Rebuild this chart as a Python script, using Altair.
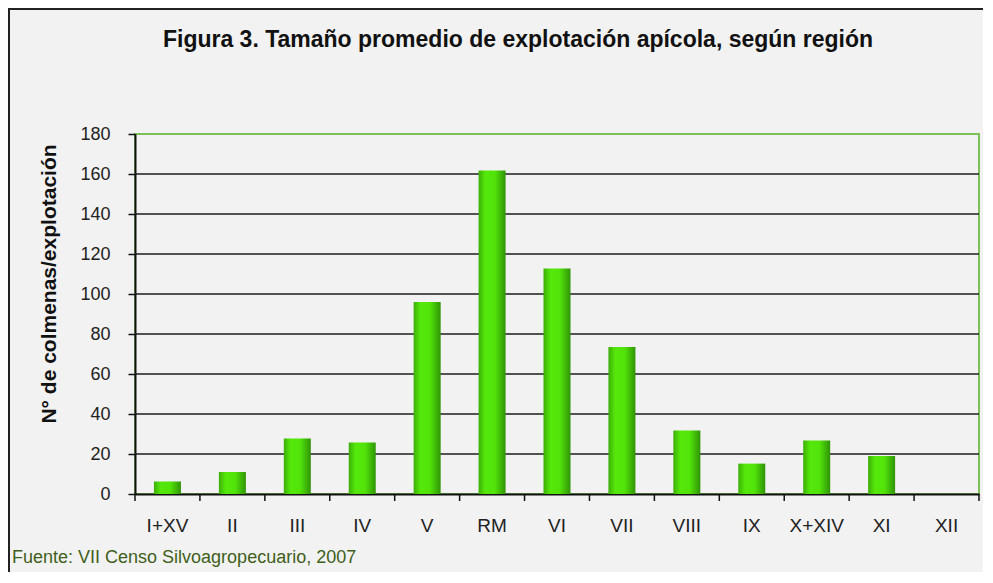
import altair as alt
import pandas as pd

regions = ["I+XV", "II", "III", "IV", "V", "RM", "VI", "VII", "VIII", "IX", "X+XIV", "XI", "XII"]
values = [6.2, 11.0, 27.7, 25.8, 96.0, 161.7, 112.8, 73.5, 31.7, 15.2, 26.8, 19.0, 0.0]
y_ticks = [0, 20, 40, 60, 80, 100, 120, 140, 160, 180]
grid_vals = [20, 40, 60, 80, 100, 120, 140, 160]

title_text = "Figura 3. Tamaño promedio de explotación apícola, según región"
y_title = "N° de colmenas/explotación"
source_text = "Fuente: VII Censo Silvoagropecuario, 2007"

W, H = 844, 360
FONT = "Liberation Sans"

df = pd.DataFrame({"region": regions, "value": values})
grid_df = pd.DataFrame({"g": grid_vals})

xscale = alt.Scale(domain=regions, paddingInner=0, paddingOuter=0)
yscale = alt.Scale(domain=[0, 180], nice=False)

xaxis = alt.Axis(title=None, labelAngle=0, ticks=False, domain=True,
                 domainColor="#111", domainWidth=2, labelFont=FONT,
                 labelFontSize=19, labelColor="#222", labelPadding=22,
                 labelOverlap=False)
yaxis = alt.Axis(title=None, values=y_ticks, grid=False, domainColor="#111",
                 domainWidth=2, tickColor="#111", tickWidth=1.5, tickSize=7,
                 labelFont=FONT, labelFontSize=18, labelColor="#222",
                 labelPadding=18, labelOverlap=False)

grad = alt.Gradient(
    gradient="linear", x1=0, x2=1, y1=0, y2=0,
    stops=[
        alt.GradientStop(color="#3cae08", offset=0),
        alt.GradientStop(color="#55e80b", offset=0.25),
        alt.GradientStop(color="#52e40a", offset=0.6),
        alt.GradientStop(color="#2f9406", offset=1),
    ],
)

grid = alt.Chart(grid_df).mark_rule(color="#1e1e1e", strokeWidth=1.6).encode(
    y=alt.Y("g:Q", scale=yscale, axis=yaxis),
    x=alt.value(0), x2=alt.value(W),
)

bars = alt.Chart(df).mark_bar(size=27, color=grad, strokeWidth=0).encode(
    x=alt.X("region:N", sort=regions, scale=xscale, axis=xaxis),
    y=alt.Y("value:Q", scale=yscale, axis=yaxis),
)

xticks = alt.Chart(df).mark_rule(color="#111", strokeWidth=1.5, xOffset=-W / 26).encode(
    x=alt.X("region:N", sort=regions, scale=xscale, axis=xaxis),
    y=alt.value(H), y2=alt.value(H + 7),
)
last_tick = alt.Chart(df.tail(1)).mark_rule(color="#111", strokeWidth=1.5, xOffset=W / 26).encode(
    x=alt.X("region:N", sort=regions, scale=xscale, axis=xaxis),
    y=alt.value(H), y2=alt.value(H + 7),
)

title = alt.Chart(pd.DataFrame({"t": [title_text]})).mark_text(
    font=FONT, fontSize=23, fontWeight="bold", color="#111", align="center", baseline="alphabetic"
).encode(text="t:N", x=alt.value(383), y=alt.value(-87))

ytitle = alt.Chart(pd.DataFrame({"t": [y_title]})).mark_text(
    font=FONT, fontSize=21, fontWeight="bold", color="#111", align="center", baseline="middle", angle=270
).encode(text="t:N", x=alt.value(-85), y=alt.value(150))

source = alt.Chart(pd.DataFrame({"t": [source_text]})).mark_text(
    font=FONT, fontSize=18, color="#3f5f1a", align="left", baseline="middle"
).encode(text="t:N", x=alt.value(-123), y=alt.value(424))

frame_left = alt.Chart(pd.DataFrame({"a": [0]})).mark_rule(color="#222", strokeWidth=2).encode(
    x=alt.value(-126), y=alt.value(-126), y2=alt.value(H + 80)
)
frame_top = alt.Chart(pd.DataFrame({"a": [0]})).mark_rule(color="#222", strokeWidth=2).encode(
    x=alt.value(-127), x2=alt.value(W + 6), y=alt.value(-125)
)

chart = alt.layer(grid, bars, xticks, last_tick, title, ytitle, source, frame_left, frame_top).properties(
    width=W, height=H,
    padding={"left": 127, "top": 126, "right": 4, "bottom": 78},
    autosize=alt.AutoSizeParams(type="none"),
    background="#f2f2f2",
).configure_view(stroke="#7cc05a", strokeWidth=2)

chart.save("out.html", embed_options={"renderer": "svg", "actions": False})
